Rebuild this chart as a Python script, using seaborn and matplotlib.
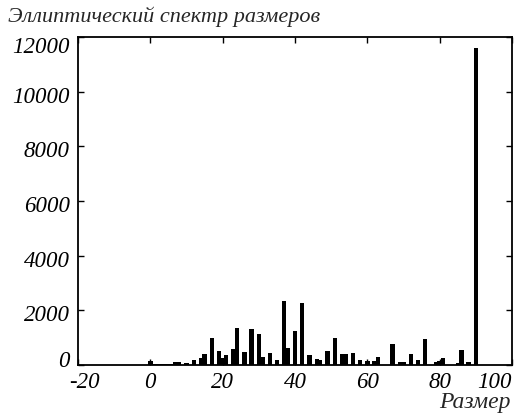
import numpy as np
import pandas as pd
import seaborn as sns
import matplotlib
matplotlib.use('Agg')
import matplotlib.pyplot as plt
import matplotlib.transforms as mtransforms

# size bins and counts
sizes = [0, 1, 2, 3, 4, 5, 6, 7, 8, 10, 12, 14, 15, 17, 19, 20, 21, 23, 24, 26,
         28, 30, 31, 33, 35, 37, 38, 40, 42, 44, 46, 47, 49, 51, 53, 54, 56, 58,
         60, 62, 63, 67, 69, 70, 72, 74, 76, 79, 80, 81, 85, 86, 88, 90]
counts = [130, 30, 25, 30, 25, 30, 40, 110, 100, 90, 180, 270, 390, 1000, 520,
          250, 380, 600, 1360, 480, 1300, 1150, 290, 440, 180, 2340, 620, 1230,
          2260, 370, 220, 170, 510, 980, 410, 410, 440, 180, 130, 130, 290, 780,
          110, 110, 400, 180, 960, 110, 150, 250, 70, 550, 110, 11600]

x_ticks = [-20, 0, 20, 40, 60, 80, 100]
x_labels = ['-20', '0', '20', '40', '60', '80', '100']
y_ticks = [0, 2000, 4000, 6000, 8000, 10000, 12000]
y_labels = ['0', '2000', '4000', '6000', '8000', '10000', '12000']

title = 'Эллиптический спектр размеров'
xlabel = 'Размер'

df = pd.DataFrame({'size': sizes, 'count': counts})

sns.set_style('ticks')
plt.rcParams['font.family'] = ['Liberation Serif', 'DejaVu Serif']
plt.rcParams['font.style'] = 'italic'
plt.rcParams['xtick.direction'] = 'in'
plt.rcParams['ytick.direction'] = 'in'

fig = plt.figure(figsize=(5.16, 4.16), dpi=100)
ax = fig.add_axes([78 / 516, 1 - 365 / 416, 434 / 516, 328 / 416])

sns.barplot(data=df, x='size', y='count', native_scale=True, color='black',
            saturation=1, width=1.2, errorbar=None, linewidth=0, ax=ax)

ax.set_xlim(-20, 100)
ax.set_ylim(0, 12000)
ax.set_xticks(x_ticks)
ax.set_xticklabels(x_labels, fontsize=16.5, style='italic')
ax.set_yticks(y_ticks)
ax.set_yticklabels(y_labels, fontsize=16.5, style='italic')
ax.tick_params(top=True, right=True, length=4, width=1, pad=5, colors='black')
ax.tick_params(axis='y', pad=6)
ax.set_xlabel('')
ax.set_ylabel('')
for s in ax.spines.values():
    s.set_linewidth(1.3)
    s.set_color('black')

# edge labels are pulled inside the frame like in the original
def shift(lbl, dx, dy):
    off = mtransforms.ScaledTranslation(dx / 100, dy / 100, fig.dpi_scale_trans)
    lbl.set_transform(lbl.get_transform() + off)

xl = ax.get_xticklabels()
xl[-1].set_ha('right')
shift(xl[0], 6, 0)
yl = ax.get_yticklabels()
for i, lbl in enumerate(yl):
    if i == 0:
        shift(lbl, 0, 6)
    elif i == len(yl) - 1:
        shift(lbl, 0, -8)
    else:
        shift(lbl, 0, -3)

fig.text(8 / 516, 1 - 22 / 416, title, fontsize=16, style='italic',
         ha='left', va='baseline')
fig.text(511 / 516, 1 - 408 / 416, xlabel, fontsize=17, style='italic',
         ha='right', va='baseline')

fig.savefig('out.png', dpi=100)
